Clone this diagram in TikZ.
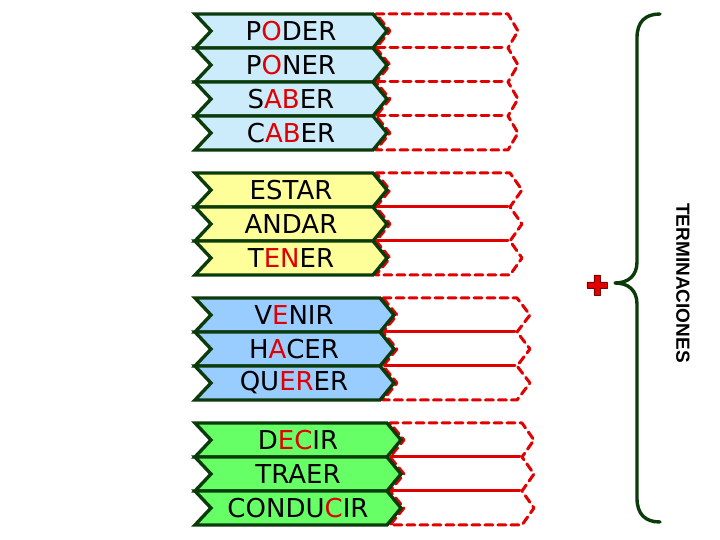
\documentclass[tikz,border=0pt]{standalone}
\usepackage{fontspec}
\newfontfamily\verbfont{DejaVu Sans}
\newfontfamily\titfont{Liberation Sans}
\definecolor{verde}{HTML}{0B3B0B}
\definecolor{rojo}{HTML}{E00000}
\definecolor{celeste}{HTML}{CCEBFB}
\definecolor{amarillo}{HTML}{FFFF99}
\definecolor{azul}{HTML}{99CCFF}
\definecolor{verdeclaro}{HTML}{66FF66}
\newcommand{\rj}[1]{\textcolor{rojo}{#1}}
\tikzset{
  ficha/.style={draw=verde, line width=1.7pt, line join=miter},
  hueco/.style={draw=rojo, line width=1.5pt, dash pattern=on 4pt off 2.5pt},
  raya/.style={draw=rojo, line width=1.5pt},
  verbo/.style={font=\verbfont\fontsize{13}{15}\selectfont, inner sep=0pt}
}
\begin{document}
\begin{tikzpicture}[x=0.5pt, y=-0.5pt, line join=round, line cap=round]
  \useasboundingbox (0,0) rectangle (720,540);
  % grupo 1
  \draw[hueco] (376,14) -- (508,14) \foreach \k in {0,...,3}{ -- (518,31+34*\k) -- (508,48+34*\k)}
    -- (376,150) \foreach \k in {3,...,0}{ -- (390,31+34*\k) -- (376,14+34*\k)};
  \foreach \y in {48,82,116} \draw[hueco] (377,\y) -- (506,\y);
  \foreach \y/\txt/\nom in {14/{P\rj{O}DER}/poder, 48/{P\rj{O}NER}/poner,
      82/{S\rj{AB}ER}/saber, 116/{C\rj{AB}ER}/caber}{
    \draw[ficha, fill=celeste] (195,\y) -- (373,\y) -- (387,\y+17) -- (373,\y+34) -- (195,\y+34) -- (211,\y+17) -- cycle;
    \node[verbo] (\nom) at (291,\y+17) {\txt};
  }
  % grupo 2
  \draw[hueco] (376,173) -- (510,173) \foreach \k in {0,1,2}{ -- (522,190+34*\k) -- (510,207+34*\k)}
    -- (376,275) \foreach \k in {2,1,0}{ -- (390,190+34*\k) -- (376,173+34*\k)};
  \foreach \y in {207,241} \draw[raya] (377,\y) -- (508,\y);
  \foreach \y/\txt/\nom in {173/{ESTAR}/estar, 207/{ANDAR}/andar, 241/{T\rj{EN}ER}/tener}{
    \draw[ficha, fill=amarillo] (195,\y) -- (373,\y) -- (387,\y+17) -- (373,\y+34) -- (195,\y+34) -- (211,\y+17) -- cycle;
    \node[verbo] (\nom) at (291,\y+17) {\txt};
  }
  % grupo 3
  \draw[hueco] (383,298) -- (517,298) \foreach \k in {0,1,2}{ -- (530,315+34*\k) -- (517,332+34*\k)}
    -- (383,400) \foreach \k in {2,1,0}{ -- (397,315+34*\k) -- (383,298+34*\k)};
  \foreach \y in {332,366} \draw[raya] (384,\y) -- (515,\y);
  \foreach \y/\txt/\nom in {298/{V\rj{E}NIR}/venir, 332/{H\rj{A}CER}/hacer, 366/{QU\rj{ER}ER}/querer}{
    \draw[ficha, fill=azul] (195,\y) -- (380,\y) -- (394,\y+17) -- (380,\y+34) -- (195,\y+34) -- (211,\y+17) -- cycle;
    \node[verbo] (\nom) at (294,\y+17) {\txt};
  }
  % grupo 4
  \draw[hueco] (390,423) -- (522,423) \foreach \k in {0,1,2}{ -- (534,440+34*\k) -- (522,457+34*\k)}
    -- (390,525) \foreach \k in {2,1,0}{ -- (404,440+34*\k) -- (390,423+34*\k)};
  \foreach \y in {457,491} \draw[raya] (391,\y) -- (520,\y);
  \foreach \y/\txt/\nom in {423/{D\rj{EC}IR}/decir, 457/{TRAER}/traer, 491/{CONDU\rj{C}IR}/conducir}{
    \draw[ficha, fill=verdeclaro] (195,\y) -- (387,\y) -- (401,\y+17) -- (387,\y+34) -- (195,\y+34) -- (211,\y+17) -- cycle;
    \node[verbo] (\nom) at (298,\y+17) {\txt};
  }
  % llave, signo y titulo
  \draw[verde, line width=1.7pt] (660,14) .. controls (645,14) and (637,22) .. (637,38) -- (637,262)
    .. controls (637,276) and (628,283) .. (615,283) .. controls (628,283) and (637,290) .. (637,304)
    -- (637,498) .. controls (637,514) and (645,522) .. (660,522);
  \draw[fill=rojo, draw=rojo!55!black, line width=0.4pt] (594,275) -- (600,275) -- (600,282) -- (607,282)
    -- (607,288) -- (600,288) -- (600,295) -- (594,295) -- (594,288) -- (587,288) -- (587,282) -- (594,282) -- cycle;
  \node[rotate=-90, font=\titfont\bfseries\fontsize{9.5}{11}\selectfont] (term) at (683,283) {TERMINACIONES};
\end{tikzpicture}
\end{document}
